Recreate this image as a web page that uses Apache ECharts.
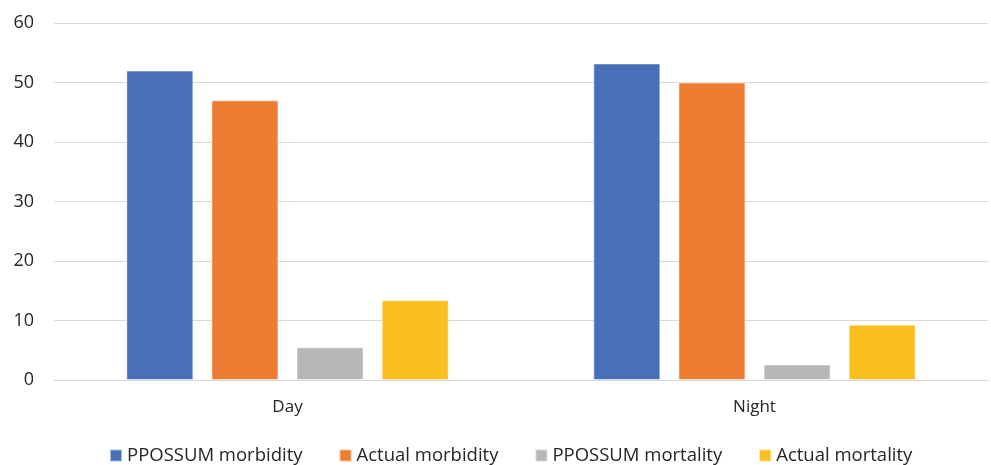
<!DOCTYPE html>
<html><head><meta charset="utf-8">
<script src="https://cdn.jsdelivr.net/npm/echarts@6/dist/echarts.min.js"></script>
<style>html,body{margin:0;padding:0;background:#fff}#c{width:991px;height:465px}</style>
</head><body><div id="c"></div>
<script>
var categories = ['Day', 'Night'];
var seriesNames = ['PPOSSUM morbidity', 'Actual morbidity', 'PPOSSUM mortality', 'Actual mortality'];
var ppossumMorbidity = [52, 53.2];
var actualMorbidity = [47, 50];
var ppossumMortality = [5.5, 2.6];
var actualMortality = [13.4, 9.3];
var yTicks = [0, 10, 20, 30, 40, 50, 60];
var colors = ['#4770B8', '#ED7D31', '#B7B7B7', '#F9BF1E'];
var values = [ppossumMorbidity, actualMorbidity, ppossumMortality, actualMortality];

var chart = echarts.init(document.getElementById('c'));
var fontFam = '"Open Sans", "Liberation Sans", sans-serif';
chart.setOption({
  animation: false,
  color: colors,
  grid: {left: 54, right: 3, top: 23, bottom: 85, containLabel: false},
  legend: {
    top: 441, left: 104, itemWidth: 12, itemHeight: 12, itemGap: 36,
    icon: 'rect',
    textStyle: {fontFamily: fontFam, fontSize: 18.5, color: '#262626'},
    data: seriesNames
  },
  xAxis: {
    type: 'category', data: categories,
    axisLine: {lineStyle: {color: '#D9D9D9', width: 1}},
    axisTick: {show: false},
    axisLabel: {fontFamily: fontFam, fontSize: 17, color: '#262626', margin: 19}
  },
  yAxis: {
    type: 'value', min: yTicks[0], max: yTicks[yTicks.length - 1], interval: 10,
    axisLine: {show: false}, axisTick: {show: false},
    splitLine: {lineStyle: {color: '#D9D9D9', width: 1}},
    axisLabel: {fontFamily: fontFam, fontSize: 18, color: '#262626', margin: 20}
  },
  series: seriesNames.map(function (n, i) {
    return {
      name: n, type: 'bar', data: values[i],
      barWidth: '14.35%', barGap: '27%',
      itemStyle: {borderColor: 'rgba(255,255,255,0.5)', borderWidth: 1}
    };
  })
});
</script></body></html>
